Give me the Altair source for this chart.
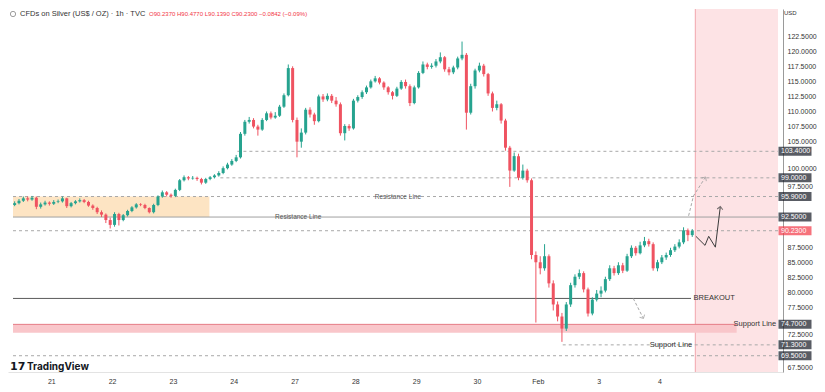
import altair as alt
import pandas as pd

# ---------------- data ----------------
CW, CH = 809, 376               # whole chart (autosize fit)
T0, T1 = -0.63, 11.95           # x domain in trading-day units (0 = "21")
Y0, Y1 = 66.8, 127.0            # price domain

day_ticks = list(range(11))
day_labels = ["21", "22", "23", "24", "27", "28", "29", "30", "Feb", "3", "4"]

bar_t0 = -0.603                 # position of first candle
bar_dt = 1 / 14                 # candle spacing (day units)
first_open = 94.5

closes = [94.8, 95.2, 95.6, 95.4, 95.7, 94.2, 94.6, 94.9, 94.7, 95.0,
          95.1, 95.6, 94.3, 94.8, 95.1, 95.3, 95.0, 94.4, 94.0, 93.3,
          92.9, 92.0, 91.2, 93.0, 92.0, 92.8, 93.5, 94.1, 94.6, 94.5,
          94.0, 93.3, 94.5, 95.9, 96.6, 96.2, 96.0, 97.0, 98.6, 99.1,
          98.9, 99.0, 98.8, 98.2, 98.8, 99.1, 99.4, 99.8, 100.6, 101.2,
          101.8, 102.4, 106.3, 108.3, 108.6, 107.5, 107.0, 108.6, 109.7, 109.0,
          109.3, 110.8, 112.7, 117.2, 108.6, 105.0, 106.5, 110.3, 109.5, 108.4,
          112.5, 112.0, 112.6, 111.8, 111.2, 106.4, 107.6, 107.2, 111.8, 112.4,
          113.2, 114.0, 115.0, 115.5, 114.8, 114.0, 113.2, 112.6, 113.8, 114.9,
          114.2, 111.4, 114.0, 116.4, 117.8, 117.4, 117.6, 118.3, 119.0, 117.0,
          116.5, 117.3, 118.8, 119.4, 109.8, 114.2, 116.8, 117.6, 116.2, 113.0,
          110.6, 111.2, 108.5, 104.0, 100.2, 102.6, 99.0, 100.2, 98.6, 86.2,
          85.0, 84.0, 86.0, 81.5, 78.0, 76.0, 74.0, 78.0, 81.2, 82.6,
          83.2, 80.5, 76.5, 78.8, 79.8, 80.3, 82.2, 84.0, 83.2, 84.5,
          83.6, 86.0, 87.4, 86.5, 87.8, 88.5, 88.0, 84.0, 85.0, 85.8,
          86.2, 87.0, 87.6, 88.3, 90.3, 89.5, 90.2]

highs = [95.1, 95.5, 95.9, 95.9, 96.0, 95.9, 94.9, 95.2, 95.1, 95.3,
         95.4, 95.9, 95.7, 95.0, 95.3, 95.6, 95.5, 95.2, 94.6, 94.2,
         93.6, 93.1, 92.4, 93.3, 93.2, 93.0, 93.7, 94.3, 94.8, 94.8,
         94.7, 94.1, 94.7, 96.1, 96.9, 96.8, 96.4, 97.2, 98.8, 99.4,
         99.3, 99.3, 99.2, 99.0, 99.0, 99.3, 99.6, 100.1, 100.9, 101.5,
         102.1, 102.8, 106.6, 108.6, 109.1, 108.9, 107.8, 108.9, 110.0, 110.0,
         109.9, 111.1, 113.0, 117.8, 117.5, 109.0, 107.2, 110.6, 110.7, 109.8,
         112.8, 112.9, 113.0, 112.9, 112.4, 111.5, 107.9, 107.9, 112.1, 112.7,
         113.5, 114.3, 115.3, 115.9, 115.7, 115.0, 114.2, 113.4, 114.1, 115.2,
         115.3, 114.5, 114.3, 116.7, 118.3, 118.1, 118.0, 118.7, 119.8, 119.2,
         117.4, 117.6, 119.1, 121.6, 119.7, 114.6, 117.1, 118.1, 117.9, 116.4,
         113.3, 111.8, 111.4, 108.8, 104.3, 103.2, 103.0, 101.2, 100.5, 98.9,
         86.8, 86.0, 88.0, 86.3, 82.0, 78.5, 76.6, 78.4, 81.6, 83.0,
         83.8, 83.5, 80.8, 79.2, 80.4, 81.0, 82.6, 84.5, 84.4, 85.0,
         84.9, 86.4, 87.8, 87.7, 88.4, 89.2, 88.9, 88.3, 85.4, 86.2,
         86.6, 87.4, 88.0, 88.8, 90.8, 90.6, 90.5]

lows = [94.3, 94.6, 95.0, 95.1, 95.2, 93.8, 93.9, 94.4, 94.4, 94.5,
        94.8, 94.9, 94.0, 94.1, 94.6, 94.9, 94.8, 94.2, 93.7, 93.0,
        92.5, 91.5, 90.6, 90.9, 91.1, 91.8, 92.6, 93.3, 93.9, 94.3,
        93.8, 93.1, 93.1, 94.3, 95.7, 95.9, 95.7, 95.8, 96.8, 98.4,
        98.6, 98.7, 98.5, 97.9, 98.0, 98.6, 98.9, 99.2, 99.6, 100.4,
        101.0, 101.6, 102.2, 106.0, 108.0, 107.2, 106.0, 106.8, 108.4, 108.7,
        108.8, 109.1, 110.6, 112.5, 108.2, 102.4, 104.0, 106.2, 109.0, 107.8,
        108.2, 111.6, 111.7, 111.4, 110.8, 106.0, 105.2, 106.8, 107.0, 111.5,
        112.1, 112.9, 113.8, 114.8, 114.5, 113.6, 112.8, 112.0, 112.4, 113.6,
        113.8, 110.9, 111.2, 113.8, 116.2, 117.0, 117.1, 117.3, 118.0, 116.6,
        116.0, 116.2, 117.0, 118.5, 107.0, 109.5, 113.8, 116.5, 115.8, 112.6,
        110.0, 110.2, 108.0, 103.5, 97.5, 100.0, 98.6, 98.7, 98.2, 85.5,
        75.0, 83.0, 83.6, 80.8, 77.0, 75.2, 71.8, 73.6, 77.6, 80.8,
        82.2, 80.0, 76.0, 76.2, 78.5, 79.2, 80.0, 81.9, 82.8, 82.9,
        83.2, 83.4, 85.7, 86.1, 86.3, 87.5, 87.6, 83.6, 83.5, 84.7,
        85.4, 85.9, 86.7, 87.3, 88.0, 88.5, 89.2]

# horizontal levels
level_values = [103.4, 99.0, 95.9, 92.5, 90.23, 79.0, 74.7, 71.3, 69.5]
level_start = [3.06, 2.78, T0, T0, T0, T0, T0, 8.41, T0]
level_end = [T1, T1, T1, T1, T1, 10.52, 11.27, T1, T1]
level_style = ["dash", "dash", "dash", "solid", "dash", "solid", "solid", "dash", "dash"]
level_color = ["#a8a8a8", "#a8a8a8", "#a8a8a8", "#a0a0a0", "#a8a8a8",
               "#5a5a5a", "#e57c86", "#a8a8a8", "#a8a8a8"]

# zones
range_zone = {"t1": T0, "t2": 2.60, "v1": 92.5, "v2": 95.9}
support_zone = {"t1": T0, "t2": 11.27, "v1": 73.3, "v2": 74.7}
forecast_start = 10.59

# price-scale boxes
box_values = [103.4, 99.0, 95.9, 92.5, 90.23, 74.7, 71.3, 69.5]
box_labels = ["103.4000", "99.0000", "95.9000", "92.5000", "90.2300",
              "74.7000", "71.3000", "69.5000"]
box_colors = ["#131722", "#131722", "#131722", "#131722", "#f23645",
              "#131722", "#131722", "#131722"]
axis_values = [67.5, 72.5, 77.5, 80.0, 82.5, 85.0, 87.5, 97.5, 100.0,
               105.0, 107.5, 110.0, 112.5, 115.0, 117.5, 120.0, 122.5]
nudged_labels = [100.0, 72.5]   # axis labels sitting right above a price box

# annotations
ann_text = ["Resistance Line", "Resistance Line", "BREAKOUT", "Support Line", "Support Line"]
ann_t = [4.06, 5.70, 10.56, 11.22, 9.84]
ann_v = [92.5, 95.9, 79.0, 74.7, 71.3]
ann_align = ["center", "center", "left", "left", "left"]

# projected path and arrows
path_t = [10.60, 10.75, 10.81, 10.92, 11.00]
path_v = [89.3, 87.8, 89.3, 87.5, 94.1]
up_t = [10.48, 10.56, 10.75]
up_v = [92.7, 96.0, 99.0]
down_t = [9.57, 9.73]
down_v = [79.0, 75.8]
arrow_t = [11.00, 10.75, 9.73]
arrow_v = [94.1, 99.0, 75.8]
arrow_angle = [7, 32, 153]
arrow_color = ["#3c3c3c", "#9a9a9a", "#9a9a9a"]

header = "CFDs on Silver (US$ / OZ) · 1h · TVC"
ohlc = "O90.2370  H90.4770  L90.1390  C90.2300  −0.0842 (−0.09%)"

# ---------------- tables ----------------
opens = [first_open] + closes[:-1]
candles = pd.DataFrame({
    "t": [bar_t0 + i * bar_dt for i in range(len(closes))],
    "open": opens, "close": closes, "high": highs, "low": lows,
})
candles["dir"] = ["up" if c >= o else "down" for o, c in zip(opens, closes)]

levels = pd.DataFrame({"v": level_values, "t1": level_start, "t2": level_end,
                       "style": level_style, "col": level_color})
boxes = pd.DataFrame({"v": box_values, "lab": box_labels, "col": box_colors,
                      "tr": [T1] * len(box_values)})
ann = pd.DataFrame({"txt": ann_text, "t": ann_t, "v": ann_v, "al": ann_align})
path = pd.DataFrame({"t": path_t, "v": path_v, "o": range(len(path_t))})
dashed = pd.DataFrame({
    "t": up_t + down_t, "v": up_v + down_v,
    "g": ["up"] * len(up_t) + ["down"] * len(down_t),
    "o": list(range(len(up_t))) + list(range(len(down_t))),
})
arrows = pd.DataFrame({"t": arrow_t, "v": arrow_v, "a": arrow_angle, "col": arrow_color})
zones = pd.DataFrame([range_zone | {"col": "#fde4c3"}, support_zone | {"col": "#f9c6ca"}])
fzone = pd.DataFrame({"t1": [forecast_start], "t2": [T1], "v1": [Y1], "v2": [Y0]})
one = pd.DataFrame({"k": [0], "tr": [T1]})

# ---------------- scales / axes ----------------
FONT = "Liberation Sans Narrow, Liberation Sans, Arial, sans-serif"
xs = alt.Scale(domain=[T0, T1], nice=False, zero=False)
ys = alt.Scale(domain=[Y0, Y1], nice=False, zero=False)
label_arr = "[" + ",".join("'" + s + "'" for s in day_labels) + "]"
nudge_test = " || ".join("datum.value == %s" % v for v in nudged_labels)
xaxis = alt.Axis(values=day_ticks, labelExpr=label_arr + "[datum.value]", title=None,
                 ticks=False, grid=False, labelFontSize=7, labelColor="#333333",
                 domainColor="#e3e3e3", labelPadding=5, labelFont=FONT)
yaxis = alt.Axis(orient="right", values=axis_values, format=".4f", title=None,
                 ticks=False, grid=False, labelFontSize=7, labelColor="#333333",
                 domainColor="#9a9a9a", labelPadding=4, labelFont=FONT,
                 labelOffset={"condition": {"test": nudge_test, "value": -3}, "value": 0})


def X(f):
    return alt.X(f, type="quantitative", scale=xs, axis=xaxis, title=None)


def Y(f):
    return alt.Y(f, type="quantitative", scale=ys, axis=yaxis, title=None)


dir_color = alt.Color("dir:N", scale=alt.Scale(domain=["up", "down"],
                                               range=["#26a38f", "#ef5361"]), legend=None)

# ---------------- layers ----------------
forecast_bg = alt.Chart(fzone).mark_rect(color="#fde3e5").encode(
    x=X("t1"), x2="t2", y=Y("v1"), y2="v2")
forecast_edge = alt.Chart(fzone).mark_rule(color="#f2a5ac", strokeWidth=1).encode(
    x=X("t1"), y=Y("v1"), y2="v2")
zone_rects = alt.Chart(zones).mark_rect().encode(
    x=X("t1"), x2="t2", y=Y("v1"), y2="v2", color=alt.Color("col:N", scale=None))

level_rules = alt.Chart(levels).mark_rule(strokeWidth=1).encode(
    x=X("t1"), x2="t2", y=Y("v"),
    color=alt.Color("col:N", scale=None),
    strokeDash=alt.StrokeDash("style:N", scale=alt.Scale(domain=["dash", "solid"],
                                                         range=[[3, 3], [1, 0]]), legend=None))

wicks = alt.Chart(candles).mark_rule(strokeWidth=1).encode(
    x=X("t"), y=Y("low"), y2="high", color=dir_color)
bodies = alt.Chart(candles).mark_bar(size=3).encode(
    x=X("t"), y=Y("open"), y2="close", color=dir_color)

ann_c = alt.Chart(ann[ann.al == "center"]).mark_text(
    align="center", baseline="middle", fontSize=6.5, color="#555555", font=FONT).encode(
    x=X("t"), y=Y("v"), text="txt:N")
ann_l = alt.Chart(ann[ann.al == "left"]).mark_text(
    align="left", baseline="middle", fontSize=7.5, color="#333333", font=FONT).encode(
    x=X("t"), y=Y("v"), text="txt:N")

path_line = alt.Chart(path).mark_line(color="#3c3c3c", strokeWidth=1).encode(
    x=X("t"), y=Y("v"), order="o:Q")
dashed_lines = alt.Chart(dashed).mark_line(color="#a8a8a8", strokeWidth=1, strokeDash=[3, 2]).encode(
    x=X("t"), y=Y("v"), detail="g:N", order="o:Q")
arrow_heads = alt.Chart(arrows).mark_point(
    shape="M -1 0.7 L 0 -0.3 L 1 0.7", filled=False, size=32, strokeWidth=1).encode(
    x=X("t"), y=Y("v"), angle=alt.Angle("a:Q", scale=None),
    stroke=alt.Stroke("col:N", scale=None))

box_rects = alt.Chart(boxes).mark_tick(thickness=9, size=33, orient="horizontal", xOffset=17).encode(
    x=X("tr"), y=Y("v"), color=alt.Color("col:N", scale=None))
box_text = alt.Chart(boxes).mark_text(
    align="left", baseline="middle", fontSize=7, color="white", font=FONT, dx=3).encode(
    x=X("tr"), y=Y("v"), text="lab:N")

usd = alt.Chart(one).mark_text(align="left", baseline="middle", fontSize=6, color="#333333",
                               font=FONT, text="USD", dx=6).encode(x=X("tr"), y=alt.value(4))
icon = alt.Chart(one).mark_point(shape="circle", size=28, filled=False, color="#777777",
                                 strokeWidth=1).encode(x=alt.value(5), y=alt.value(5))
title1 = alt.Chart(one).mark_text(align="left", baseline="middle", fontSize=7.5, color="#333333",
                                  font=FONT, text=header).encode(x=alt.value(12), y=alt.value(5))
title2 = alt.Chart(one).mark_text(align="left", baseline="middle", fontSize=6, color="#f23645",
                                  font=FONT, text=ohlc).encode(x=alt.value(141), y=alt.value(5))
logo = alt.Chart(one).mark_text(align="left", baseline="middle", fontSize=11, fontWeight="bold",
                                color="#131722", font="DejaVu Sans", text="17").encode(
    x=alt.value(2), y=alt.value(358))
brand = alt.Chart(one).mark_text(align="left", baseline="middle", fontSize=10, fontWeight="bold",
                                 color="#131722", font="Inter, Roboto, sans-serif",
                                 text="TradingView").encode(x=alt.value(19), y=alt.value(358))

chart = alt.layer(
    forecast_bg, forecast_edge, zone_rects, level_rules, wicks, bodies,
    path_line, dashed_lines, arrow_heads, ann_c, ann_l,
    box_rects, box_text, usd, icon, title1, title2, logo, brand,
).properties(
    width=CW, height=CH, padding={"left": 0, "top": 0, "right": 0, "bottom": 0},
    autosize=alt.AutoSizeParams(type="fit", contains="padding"),
    background="white",
).configure_view(stroke=None)

chart.save("out.html", embed_options={"renderer": "svg", "actions": False})
